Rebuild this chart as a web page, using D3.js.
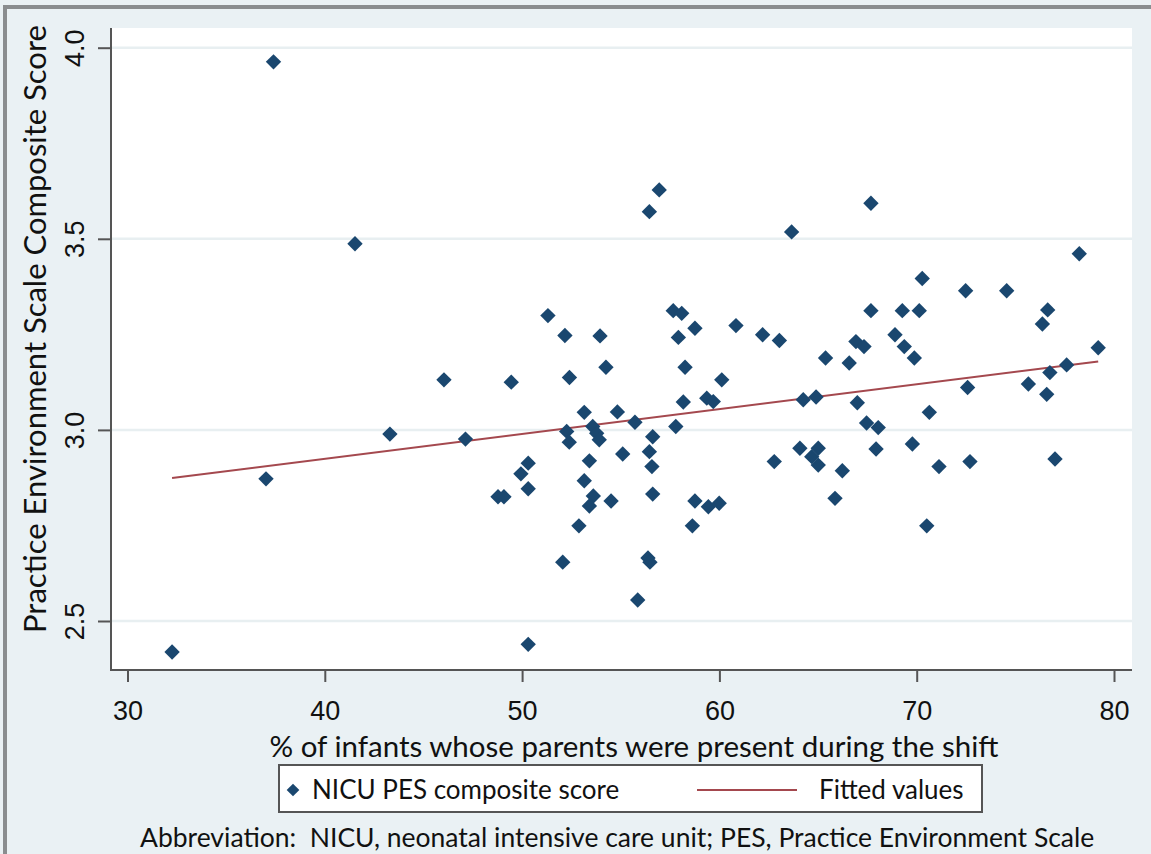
<!DOCTYPE html>
<html>
<head>
<meta charset="utf-8">
<script src="https://cdn.jsdelivr.net/npm/d3@7"></script>
<style>
  body { margin: 0; background: #fff; }
  svg { display: block; }
</style>
</head>
<body>
<script>
var w = 1151;
var h = 854;

// % of infants whose parents were present during the shift
var pctPresent = [
  37.40, 41.53, 32.26, 37.02, 43.30, 46.04, 47.13, 49.45, 51.31, 52.17,
  52.40, 53.95, 54.25, 53.15, 54.83, 55.72, 52.26, 52.39, 53.58, 53.78,
  53.91, 56.62, 56.45, 56.58, 56.62, 55.10, 53.41, 53.15, 53.61, 53.41,
  54.51, 50.31, 49.94, 50.31, 48.78, 49.08, 52.88, 52.06, 56.38, 56.48,
  55.86, 50.31, 56.95, 56.45, 63.66, 57.66, 58.09, 58.76, 57.92, 60.84,
  62.19, 63.04, 65.38, 66.58, 58.26, 60.12, 58.17, 59.36, 59.69, 64.25,
  64.90, 66.99, 57.79, 67.46, 68.05, 64.08, 65.01, 64.68, 65.01, 62.78,
  67.94, 66.23, 65.86, 69.78, 71.13, 72.70, 77.01, 70.64, 70.51, 67.68,
  78.24, 70.28, 72.48, 74.56, 67.68, 69.27, 70.13, 76.64, 76.37, 68.90,
  66.92, 67.33, 69.37, 69.88, 79.20, 77.60, 76.75, 75.66, 72.58, 76.59,
  58.63, 58.76, 59.44, 59.99
];

// NICU PES composite score
var pesScore = [
  3.963, 3.487, 2.419, 2.872, 2.989, 3.131, 2.976, 3.125, 3.299, 3.247,
  3.137, 3.246, 3.164, 3.046, 3.047, 3.020, 2.996, 2.968, 3.009, 2.991,
  2.974, 2.982, 2.943, 2.904, 2.832, 2.937, 2.919, 2.867, 2.827, 2.801,
  2.814, 2.913, 2.885, 2.846, 2.825, 2.825, 2.749, 2.654, 2.665, 2.654,
  2.555, 2.439, 3.628, 3.571, 3.518, 3.312, 3.305, 3.266, 3.242, 3.273,
  3.249, 3.234, 3.188, 3.175, 3.164, 3.131, 3.073, 3.083, 3.074, 3.079,
  3.086, 3.071, 3.009, 3.018, 3.006, 2.952, 2.952, 2.930, 2.908, 2.917,
  2.950, 2.893, 2.821, 2.963, 2.904, 2.917, 2.924, 3.046, 2.749, 3.593,
  3.461, 3.396, 3.364, 3.364, 3.312, 3.312, 3.312, 3.314, 3.277, 3.249,
  3.231, 3.218, 3.218, 3.188, 3.215, 3.170, 3.150, 3.120, 3.111, 3.093,
  2.749, 2.814, 2.799, 2.808
];

// fitted values line (end points)
var fitX = [32.26, 79.20];
var fitY = [2.874, 3.179];

var xTicks = [30, 40, 50, 60, 70, 80];
var yTicks = [2.5, 3.0, 3.5, 4.0];

var points = pctPresent.map(function(d, i) { return {x: d, y: pesScore[i]}; });
var fit = fitX.map(function(d, i) { return {x: d, y: fitY[i]}; });

var navy = "#1a476f";
var maroon = "#a4484e";
var textFont = "Lato, 'Open Sans', sans-serif";
var numFont = "'Liberation Sans', Arial, sans-serif";

var plot = {left: 111, top: 28, right: 1132, bottom: 670};

var x = d3.scaleLinear().domain([30, 80]).range([127.5, 1114]);
var y = d3.scaleLinear().domain([2.5, 4]).range([621, 47.7]);

var svg = d3.select("body")
            .append("svg")
            .attr("width", w)
            .attr("height", h);

// graph region background
svg.append("rect")
   .attr("width", w).attr("height", h)
   .attr("fill", "#eaf1f4");

// outer frame (top / left)
svg.append("path")
   .attr("d", "M5,854 L5,7 L1151,7")
   .attr("fill", "none")
   .attr("stroke", "#8a8d8f")
   .attr("stroke-width", 4);

// plot region
svg.append("rect")
   .attr("x", plot.left).attr("y", plot.top)
   .attr("width", plot.right - plot.left)
   .attr("height", plot.bottom - plot.top)
   .attr("fill", "#fff");

// gridlines
svg.selectAll("line.grid")
   .data(yTicks)
   .enter()
   .append("line")
   .attr("class", "grid")
   .attr("x1", plot.left).attr("x2", plot.right)
   .attr("y1", function(d) { return y(d); })
   .attr("y2", function(d) { return y(d); })
   .style("stroke", "#e8eff1")
   .style("stroke-width", 2.5);

// y axis
var yAxis = svg.append("g")
   .attr("transform", "translate(" + plot.left + ",0)")
   .call(d3.axisLeft(y).tickValues(yTicks).tickFormat(d3.format(".1f")).tickSize(13).tickSizeOuter(0));
yAxis.select(".domain").remove();
yAxis.append("line")
   .attr("y1", plot.top).attr("y2", plot.bottom + 1)
   .style("stroke", "#555").style("stroke-width", 2);
yAxis.selectAll(".tick line").style("stroke", "#555").style("stroke-width", 2);
yAxis.selectAll(".tick text")
   .attr("x", 0).attr("y", 0)
   .attr("dy", null)
   .attr("transform", "translate(-27,0) rotate(-90)")
   .attr("text-anchor", "middle")
   .style("font-family", numFont)
   .style("font-size", "27px")
   .style("fill", "#111");

// x axis
var xAxis = svg.append("g")
   .attr("transform", "translate(0," + plot.bottom + ")")
   .call(d3.axisBottom(x).tickValues(xTicks).tickSize(12).tickSizeOuter(0));
xAxis.select(".domain").remove();
xAxis.append("line")
   .attr("x1", plot.left - 1).attr("x2", plot.right)
   .style("stroke", "#555").style("stroke-width", 2);
xAxis.selectAll(".tick line").style("stroke", "#555").style("stroke-width", 2);
xAxis.selectAll(".tick text")
   .attr("y", 50).attr("dy", null)
   .style("font-family", numFont)
   .style("font-size", "27px")
   .style("fill", "#111");
xAxis.attr("font-family", null).attr("font-size", null);
yAxis.attr("font-family", null).attr("font-size", null);

// axis titles
svg.append("text")
   .attr("x", 634).attr("y", 757)
   .attr("text-anchor", "middle")
   .style("font-family", textFont)
   .style("font-size", "29.5px")
   .style("fill", "#111")
   .text("% of infants whose parents were present during the shift");

svg.append("text")
   .attr("transform", "translate(46,329) rotate(-90)")
   .attr("text-anchor", "middle")
   .style("font-family", textFont)
   .style("font-size", "31px")
   .style("fill", "#111")
   .text("Practice Environment Scale Composite Score");

// fitted line
var line = d3.line()
   .x(function(d) { return x(d.x); })
   .y(function(d) { return y(d.y); });

svg.append("path")
   .datum(fit)
   .attr("d", line)
   .attr("fill", "none")
   .style("stroke", maroon)
   .style("stroke-width", 2);

// scatter points
var diamond = d3.symbol().type(d3.symbolSquare).size(118);
svg.selectAll("path.pt")
   .data(points)
   .enter()
   .append("path")
   .attr("class", "pt")
   .attr("d", diamond)
   .attr("transform", function(d) {
     return "translate(" + x(d.x) + "," + y(d.y) + ") rotate(45)";
   })
   .style("fill", navy);

// legend
var legend = svg.append("g");
legend.append("rect")
   .attr("x", 279).attr("y", 765)
   .attr("width", 703).attr("height", 47)
   .attr("fill", "#fff")
   .style("stroke", "#555")
   .style("stroke-width", 2);
legend.append("path")
   .attr("d", d3.symbol().type(d3.symbolSquare).size(80))
   .attr("transform", "translate(293,790) rotate(45)")
   .style("fill", navy);
legend.append("text")
   .attr("x", 312).attr("y", 799)
   .style("font-family", textFont)
   .style("font-size", "26px")
   .style("fill", "#111")
   .text("NICU PES composite score");
legend.append("line")
   .attr("x1", 697).attr("x2", 797)
   .attr("y1", 790).attr("y2", 790)
   .style("stroke", maroon)
   .style("stroke-width", 2);
legend.append("text")
   .attr("x", 819).attr("y", 799)
   .style("font-family", textFont)
   .style("font-size", "26px")
   .style("fill", "#111")
   .text("Fitted values");

// note
svg.append("text")
   .attr("x", 140).attr("y", 847)
   .style("font-family", textFont)
   .style("font-size", "26.5px")
   .style("fill", "#111")
   .style("white-space", "pre")
   .attr("xml:space", "preserve")
   .text("Abbreviation:  NICU, neonatal intensive care unit; PES, Practice Environment Scale");
</script>
</body>
</html>
